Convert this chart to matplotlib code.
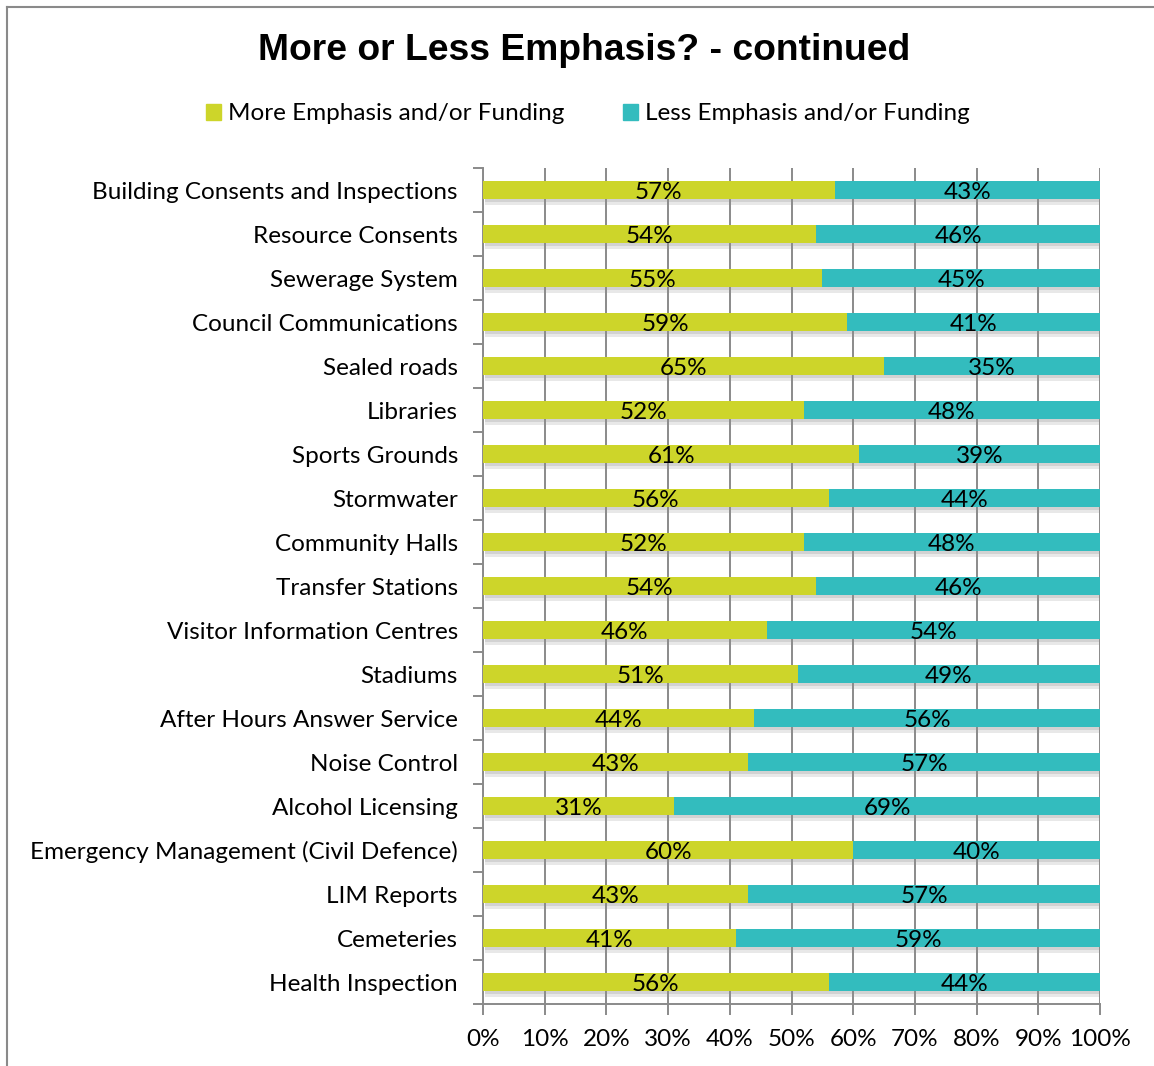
import matplotlib.pyplot as plt
import matplotlib.patheffects as pe
from matplotlib.lines import Line2D
from matplotlib.patches import Patch
from matplotlib.ticker import MultipleLocator, PercentFormatter
import numpy as np

categories = [
    'Building Consents and Inspections',
    'Resource Consents',
    'Sewerage System',
    'Council Communications',
    'Sealed roads',
    'Libraries',
    'Sports Grounds',
    'Stormwater',
    'Community Halls',
    'Transfer Stations',
    'Visitor Information Centres',
    'Stadiums',
    'After Hours Answer Service',
    'Noise Control',
    'Alcohol Licensing',
    'Emergency Management (Civil Defence)',
    'LIM Reports',
    'Cemeteries',
    'Health Inspection',
]
more = [57, 54, 55, 59, 65, 52, 61, 56, 52, 54, 46, 51, 44, 43, 31, 60, 43, 41, 56]
less = [43, 46, 45, 41, 35, 48, 39, 44, 48, 46, 54, 49, 56, 57, 69, 40, 57, 59, 44]

green = '#cdd52a'
teal = '#33bcbe'
grey = '#8a8a8a'
fs = 17.5

plt.rcParams['font.family'] = ['Lato', 'DejaVu Sans']

fig = plt.figure(figsize=(11.54, 10.66), dpi=100)
ax = fig.add_axes([483 / 1154, 1 - 1004 / 1066, 617 / 1154, 836 / 1066])

y = np.arange(len(categories))
# soft drop shadow under each bar
shadow = [pe.SimplePatchShadow(offset=(1.5, -2), shadow_rgbFace='#909090', alpha=0.25),
          pe.SimplePatchShadow(offset=(1.5, -4), shadow_rgbFace='#909090', alpha=0.2),
          pe.Normal()]
ax.barh(y, more, height=0.42, color=green, path_effects=shadow, zorder=3)
ax.barh(y, less, left=more, height=0.42, color=teal, path_effects=shadow, zorder=3)

for i in range(len(categories)):
    ax.text(more[i] / 2, y[i] + 0.05, f'{more[i]}%', ha='center', va='center', fontsize=fs, zorder=4)
    ax.text(more[i] + less[i] / 2, y[i] + 0.05, f'{less[i]}%', ha='center', va='center', fontsize=fs, zorder=4)

ax.set_xlim(0, 100)
ax.set_ylim(len(categories) - 0.5, -0.5)
ax.xaxis.set_major_locator(MultipleLocator(10))
ax.xaxis.set_major_formatter(PercentFormatter(decimals=0))
ax.grid(axis='x', color=grey, linewidth=1.4, zorder=0)
ax.set_axisbelow(True)

ax.set_yticks(y)
ax.set_yticklabels(categories, fontsize=fs)
ax.set_yticks(np.arange(len(categories) + 1) - 0.5, minor=True)
ax.tick_params(axis='y', which='major', length=0, pad=18)
ax.tick_params(axis='y', which='minor', length=7, width=1.4, color=grey)
ax.tick_params(axis='x', length=8, width=1.4, color=grey, labelsize=fs, pad=10)

for s in ['top', 'right']:
    ax.spines[s].set_visible(False)
for s in ['left', 'bottom']:
    ax.spines[s].set_color(grey)
    ax.spines[s].set_linewidth(1.4)

fig.text(584 / 1154, 1 - 50 / 1066, 'More or Less Emphasis? - continued', ha='center', va='center',
         fontsize=26.8, fontweight='bold', family='Liberation Sans')

handles = [Patch(color=green), Patch(color=teal)]
fig.legend(handles, ['More Emphasis and/or Funding', 'Less Emphasis and/or Funding'],
           loc='center', bbox_to_anchor=(588 / 1154, 1 - 114 / 1066), ncol=2, frameon=False,
           fontsize=fs, handlelength=0.6, handleheight=0.6, handletextpad=0.3, columnspacing=2.4)

# outer frame, only left and top edges
fig.add_artist(Line2D([6.5 / 1154, 6.5 / 1154], [0, 1 - 7 / 1066], color=grey, linewidth=1.5))
fig.add_artist(Line2D([6.5 / 1154, 1], [1 - 7 / 1066, 1 - 7 / 1066], color=grey, linewidth=1.5))

fig.savefig('out.png', dpi=100)
